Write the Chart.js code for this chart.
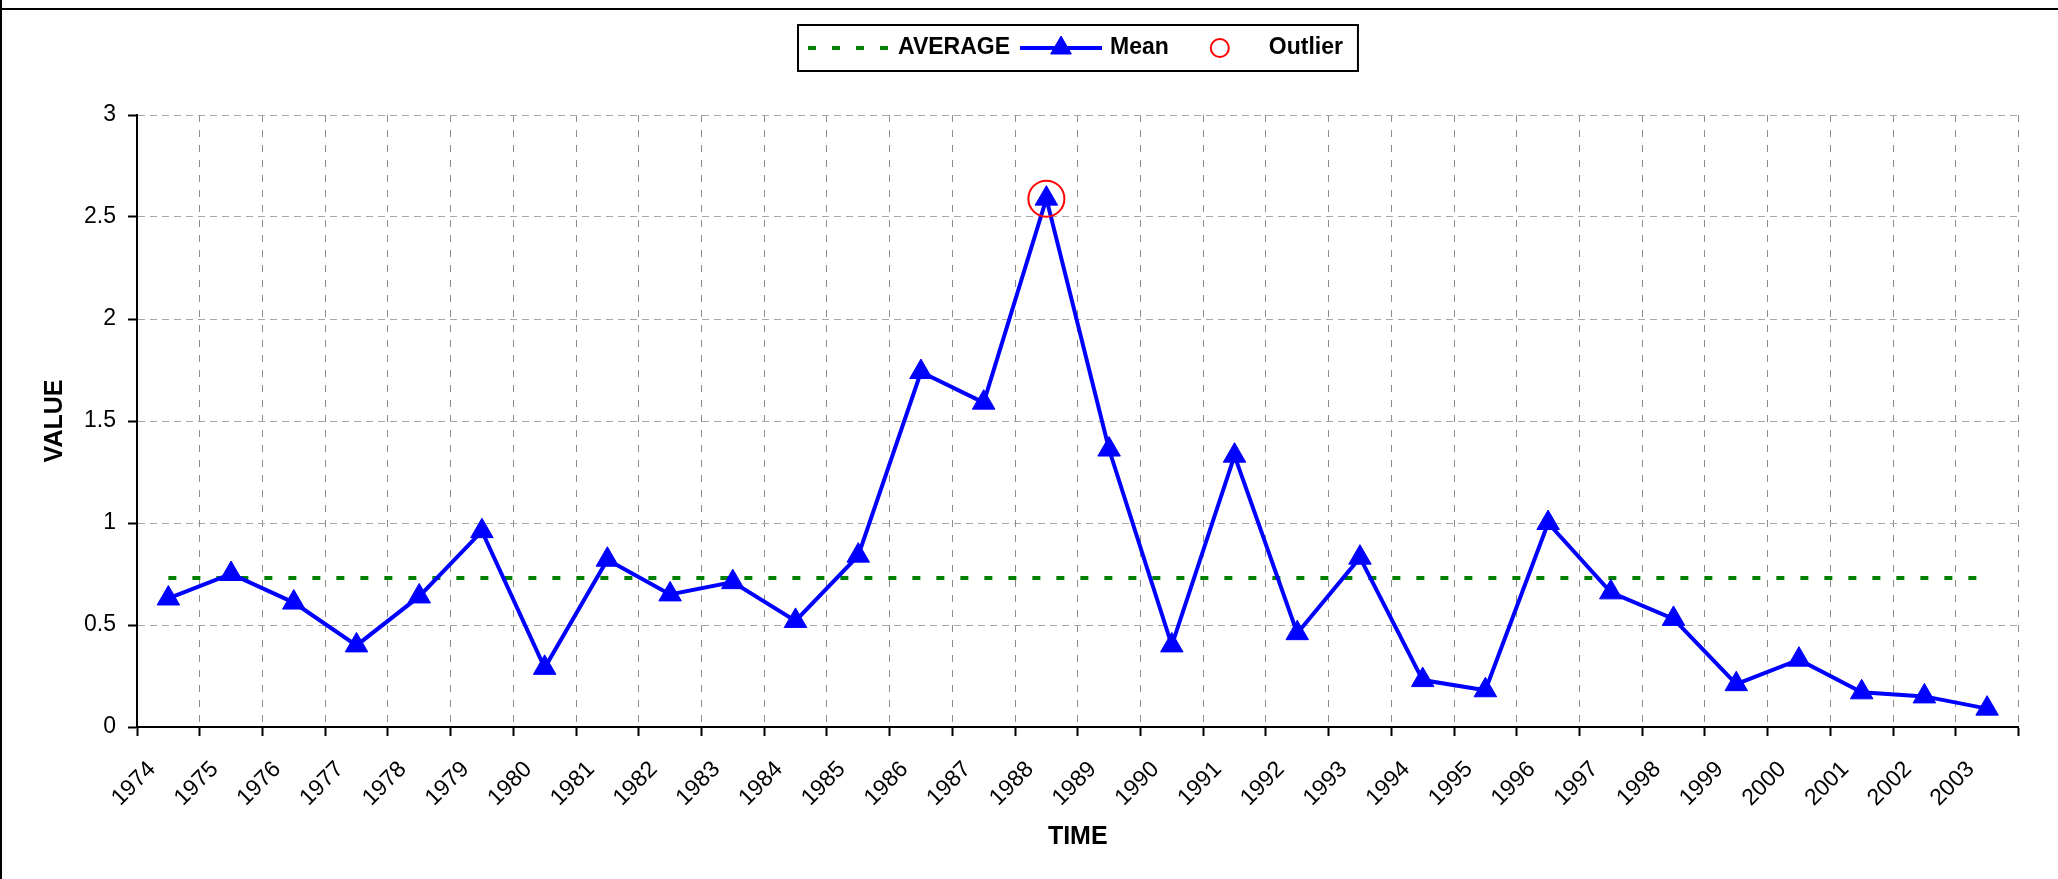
<!DOCTYPE html>
<html>
<head>
<meta charset="utf-8">
<title>Mean value by year</title>
<script src="https://cdn.jsdelivr.net/npm/chart.js@4.4.1/dist/chart.umd.min.js"></script>
<style>
  html, body { margin: 0; padding: 0; background: #fff; }
  #wrap { width: 2058px; height: 879px; }
</style>
</head>
<body>
<div id="wrap"><canvas id="chart" width="2058" height="879"></canvas></div>
<script>
const years = ['1974', '1975', '1976', '1977', '1978', '1979', '1980', '1981', '1982', '1983',
               '1984', '1985', '1986', '1987', '1988', '1989', '1990', '1991', '1992', '1993',
               '1994', '1995', '1996', '1997', '1998', '1999', '2000', '2001', '2002', '2003'];

const meanValues = [0.63, 0.75, 0.61, 0.40, 0.64, 0.96, 0.29, 0.82, 0.65, 0.71,
                    0.52, 0.84, 1.74, 1.59, 2.59, 1.36, 0.40, 1.33, 0.46, 0.83,
                    0.23, 0.18, 1.00, 0.66, 0.53, 0.21, 0.33, 0.17, 0.15, 0.09];

const averageValues = [0.73, 0.73, 0.73, 0.73, 0.73, 0.73, 0.73, 0.73, 0.73, 0.73,
                       0.73, 0.73, 0.73, 0.73, 0.73, 0.73, 0.73, 0.73, 0.73, 0.73,
                       0.73, 0.73, 0.73, 0.73, 0.73, 0.73, 0.73, 0.73, 0.73, 0.73];

const outlierValues = [null, null, null, null, null, null, null, null, null, null,
                       null, null, null, null, 2.59, null, null, null, null, null,
                       null, null, null, null, null, null, null, null, null, null];

const yTickStep = 0.5;
const yMax = 3;

// each year sits in the middle of its band, the year label on the band's left edge
function toPoints(values) {
    return values
        .map((v, i) => ({ x: i + 0.5, y: v }))
        .filter(p => p.y !== null);
}

const FONT = '"Liberation Sans", Arial, sans-serif';
Chart.defaults.font.family = FONT;
Chart.defaults.color = '#000';

// window frame behind the chart
const frame = {
    id: 'frame',
    beforeDraw(chart) {
        const ctx = chart.ctx;
        ctx.save();
        ctx.fillStyle = '#fff';
        ctx.fillRect(0, 0, chart.width, chart.height);
        ctx.strokeStyle = '#000';
        ctx.lineWidth = 2;
        ctx.beginPath();
        ctx.moveTo(0, 9);
        ctx.lineTo(chart.width, 9);
        ctx.moveTo(1, 0);
        ctx.lineTo(1, chart.height);
        ctx.stroke();
        ctx.restore();
    }
};

// boxed legend: line sample, marker, bold label, all on one row
const boxLegend = {
    id: 'boxLegend',
    afterDraw(chart) {
        const { ctx, chartArea } = chart;
        const sampleW = 82, gapText = 8, gapItem = 10, padL = 10, padR = 15;
        const top = 25, bottom = 71, cy = 48;
        const markerSize = { triangle: 12, circle: 9 };

        ctx.save();
        ctx.font = 'bold 23px ' + FONT;
        const items = chart.data.datasets.map(ds => ({ ds, w: ctx.measureText(ds.label).width }));
        let total = padL + padR;
        items.forEach((it, i) => { total += sampleW + gapText + it.w + (i ? gapItem : 0); });
        const left = Math.round((chartArea.left + chartArea.right) / 2 - total / 2);

        ctx.strokeStyle = '#000';
        ctx.lineWidth = 2;
        ctx.strokeRect(left, top, total, bottom - top);

        let x = left + padL;
        items.forEach(({ ds, w }, i) => {
            if (i) x += gapItem;
            const mid = x + sampleW / 2;
            if (ds.showLine !== false) {
                ctx.save();
                ctx.strokeStyle = ds.borderColor;
                ctx.lineWidth = ds.borderWidth;
                ctx.setLineDash(ds.borderDash || []);
                ctx.beginPath();
                ctx.moveTo(x, cy);
                ctx.lineTo(x + sampleW, cy);
                ctx.stroke();
                ctx.restore();
            }
            if (ds.pointRadius > 0) {
                const r = markerSize[ds.pointStyle] || 8;
                ctx.save();
                ctx.strokeStyle = ds.pointBorderColor;
                ctx.fillStyle = ds.pointBackgroundColor;
                ctx.lineWidth = ds.pointBorderWidth;
                ctx.beginPath();
                if (ds.pointStyle === 'triangle') {
                    ctx.moveTo(mid, cy - r);
                    ctx.lineTo(mid + r * 0.866, cy + r / 2);
                    ctx.lineTo(mid - r * 0.866, cy + r / 2);
                    ctx.closePath();
                } else {
                    ctx.arc(mid, cy, r, 0, Math.PI * 2);
                }
                ctx.fill();
                ctx.stroke();
                ctx.restore();
            }
            x += sampleW + gapText;
            ctx.fillStyle = '#000';
            ctx.textBaseline = 'middle';
            ctx.fillText(ds.label, x, cy);
            x += w;
        });
        ctx.restore();
    }
};

new Chart(document.getElementById('chart'), {
    type: 'line',
    data: {
        datasets: [{
            label: 'AVERAGE',
            data: toPoints(averageValues),
            borderColor: '#008000',
            borderWidth: 4,
            borderDash: [8, 16],
            pointRadius: 0,
            order: 3
        }, {
            label: 'Mean',
            data: toPoints(meanValues),
            borderColor: '#0000ff',
            borderWidth: 4,
            pointStyle: 'triangle',
            pointRadius: 13,
            pointBackgroundColor: '#0000ff',
            pointBorderColor: '#0000ff',
            pointBorderWidth: 1,
            order: 2
        }, {
            label: 'Outlier',
            data: toPoints(outlierValues),
            showLine: false,
            pointStyle: 'circle',
            pointRadius: 18,
            pointBackgroundColor: 'rgba(0,0,0,0)',
            pointBorderColor: '#ff0000',
            pointBorderWidth: 2,
            order: 1
        }]
    },
    options: {
        responsive: false,
        animation: false,
        layout: { padding: { left: 0, right: 31, top: 115, bottom: 0 } },
        plugins: {
            legend: { display: false },
            tooltip: { enabled: false }
        },
        scales: {
            x: {
                type: 'linear',
                min: 0,
                max: years.length,
                afterFit(scale) { scale.height = 152; },
                grid: {
                    color: '#8c8c8c',
                    lineWidth: 1,
                    tickLength: 9,
                    tickColor: '#000',
                    tickWidth: 2,
                    tickBorderDash: []
                },
                border: { color: '#000', width: 2, dash: [7, 8] },
                ticks: {
                    stepSize: 1,
                    maxTicksLimit: years.length + 1,
                    autoSkip: false,
                    minRotation: 45,
                    maxRotation: 45,
                    labelOffset: 15,
                    padding: 20,
                    font: { size: 23 },
                    callback: value => years[Math.round(value)] || ''
                },
                title: {
                    display: true,
                    text: 'TIME',
                    font: { size: 25, weight: 'bold' },
                    padding: { top: 0, bottom: 27 }
                }
            },
            y: {
                min: 0,
                max: yMax,
                afterFit(scale) { scale.width = 137; },
                grid: {
                    color: '#a6a6a6',
                    lineWidth: 1,
                    tickLength: 9,
                    tickColor: '#000',
                    tickWidth: 2,
                    tickBorderDash: []
                },
                border: { color: '#000', width: 2, dash: [7, 5] },
                ticks: {
                    stepSize: yTickStep,
                    padding: 12,
                    font: { size: 23 },
                    callback: value => String(value)
                },
                title: {
                    display: true,
                    text: 'VALUE',
                    font: { size: 25, weight: 'bold' },
                    padding: { top: 40, bottom: 0 }
                }
            }
        }
    },
    plugins: [frame, boxLegend]
});
</script>
</body>
</html>
